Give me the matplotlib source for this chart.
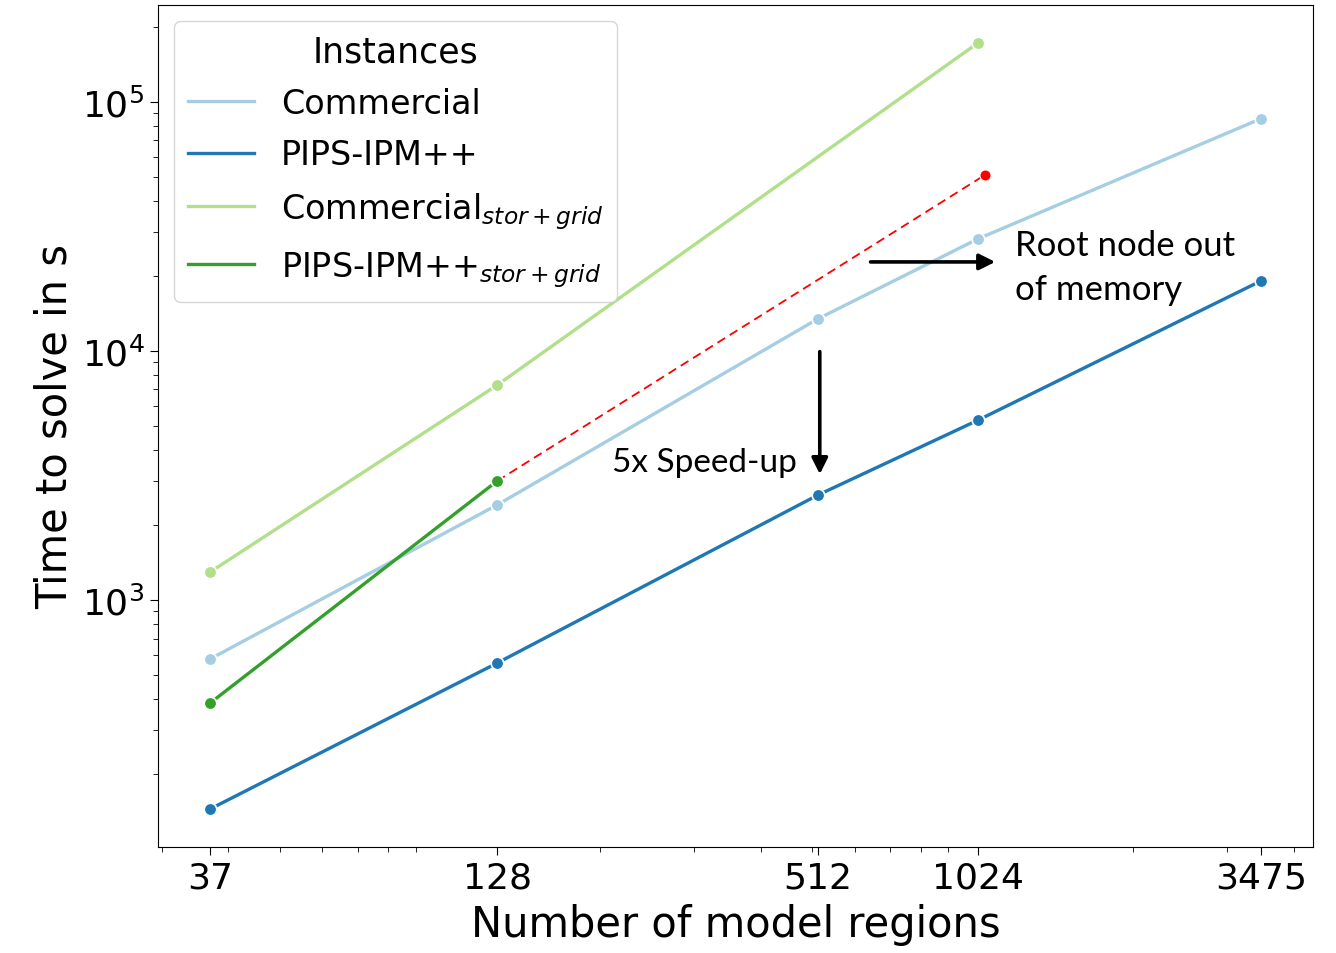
import matplotlib
matplotlib.use("Agg")
import matplotlib.pyplot as plt

# data (log-log)
regions = [37, 128, 512, 1024, 3475]
commercial = [580, 2410, 13450, 28200, 85500]
pips = [145, 559, 2640, 5280, 19100]
regions_sg = [37, 128, 1024]
commercial_sg = [1295, 7290, 172600]
regions_pips_sg = [37, 128]
pips_sg = [386, 3006]
# extrapolated root node (out of memory)
oom_x = [128, 1055]
oom_y = [3006, 50900]

colors = ["#a6cee3", "#1f78b4", "#b2df8a", "#33a02c"]

fig = plt.figure(figsize=(13.36, 9.54), dpi=100)
ax = fig.add_axes([0.118, 0.111, 0.865, 0.883])

mk = dict(marker="o", markersize=9, markeredgecolor="white", markeredgewidth=1.2, linewidth=2.4)
ax.plot(regions, commercial, color=colors[0], label="Commercial", **mk)
ax.plot(regions, pips, color=colors[1], label="PIPS-IPM++", **mk)
ax.plot(regions_sg, commercial_sg, color=colors[2], label=r"Commercial$_{stor+grid}$", **mk)
ax.plot(oom_x, oom_y, color="red", linestyle=(0, (5, 3)), linewidth=1.3, zorder=1)
ax.plot(oom_x[1:], oom_y[1:], "o", color="red", markersize=8, markeredgecolor="white", markeredgewidth=0.8)
ax.plot(regions_pips_sg, pips_sg, color=colors[3], label=r"PIPS-IPM++$_{stor+grid}$", **mk)

ax.set_xscale("log")
ax.set_yscale("log")
ax.set_xlim(29.5, 4355)
ax.set_ylim(102, 2.45e5)
ax.set_xticks(regions)
ax.set_xticklabels([str(r) for r in regions])
ax.tick_params(axis="both", which="major", labelsize=26, length=6)
ax.tick_params(axis="both", which="minor", length=3.5)
ax.set_xlabel("Number of model regions", fontsize=30, labelpad=6)
ax.set_ylabel("Time to solve in s", fontsize=30)

leg = ax.legend(title="Instances", loc="upper left", fontsize=24, title_fontsize=25,
                handlelength=2.0, handletextpad=0.8, borderaxespad=0.5, labelspacing=0.55)
for h in leg.get_lines():
    h.set_marker("")

# annotations
ann_font = ["Lato", "DejaVu Sans"]
ax.annotate("", xy=(1115, 22750), xytext=(635, 22750),
            arrowprops=dict(arrowstyle="-|>", color="black", lw=2.6, mutation_scale=24))
ax.text(1200, 30800, "Root node out\nof memory", fontsize=25, family=ann_font,
        va="top", ha="left", linespacing=1.45)
ax.annotate("", xy=(516, 3120), xytext=(516, 10190),
            arrowprops=dict(arrowstyle="-|>", color="black", lw=2.6, mutation_scale=24))
ax.text(210, 3580, "5x Speed-up", fontsize=24, family=ann_font, va="center", ha="left")

fig.savefig("out.png", dpi=100)
